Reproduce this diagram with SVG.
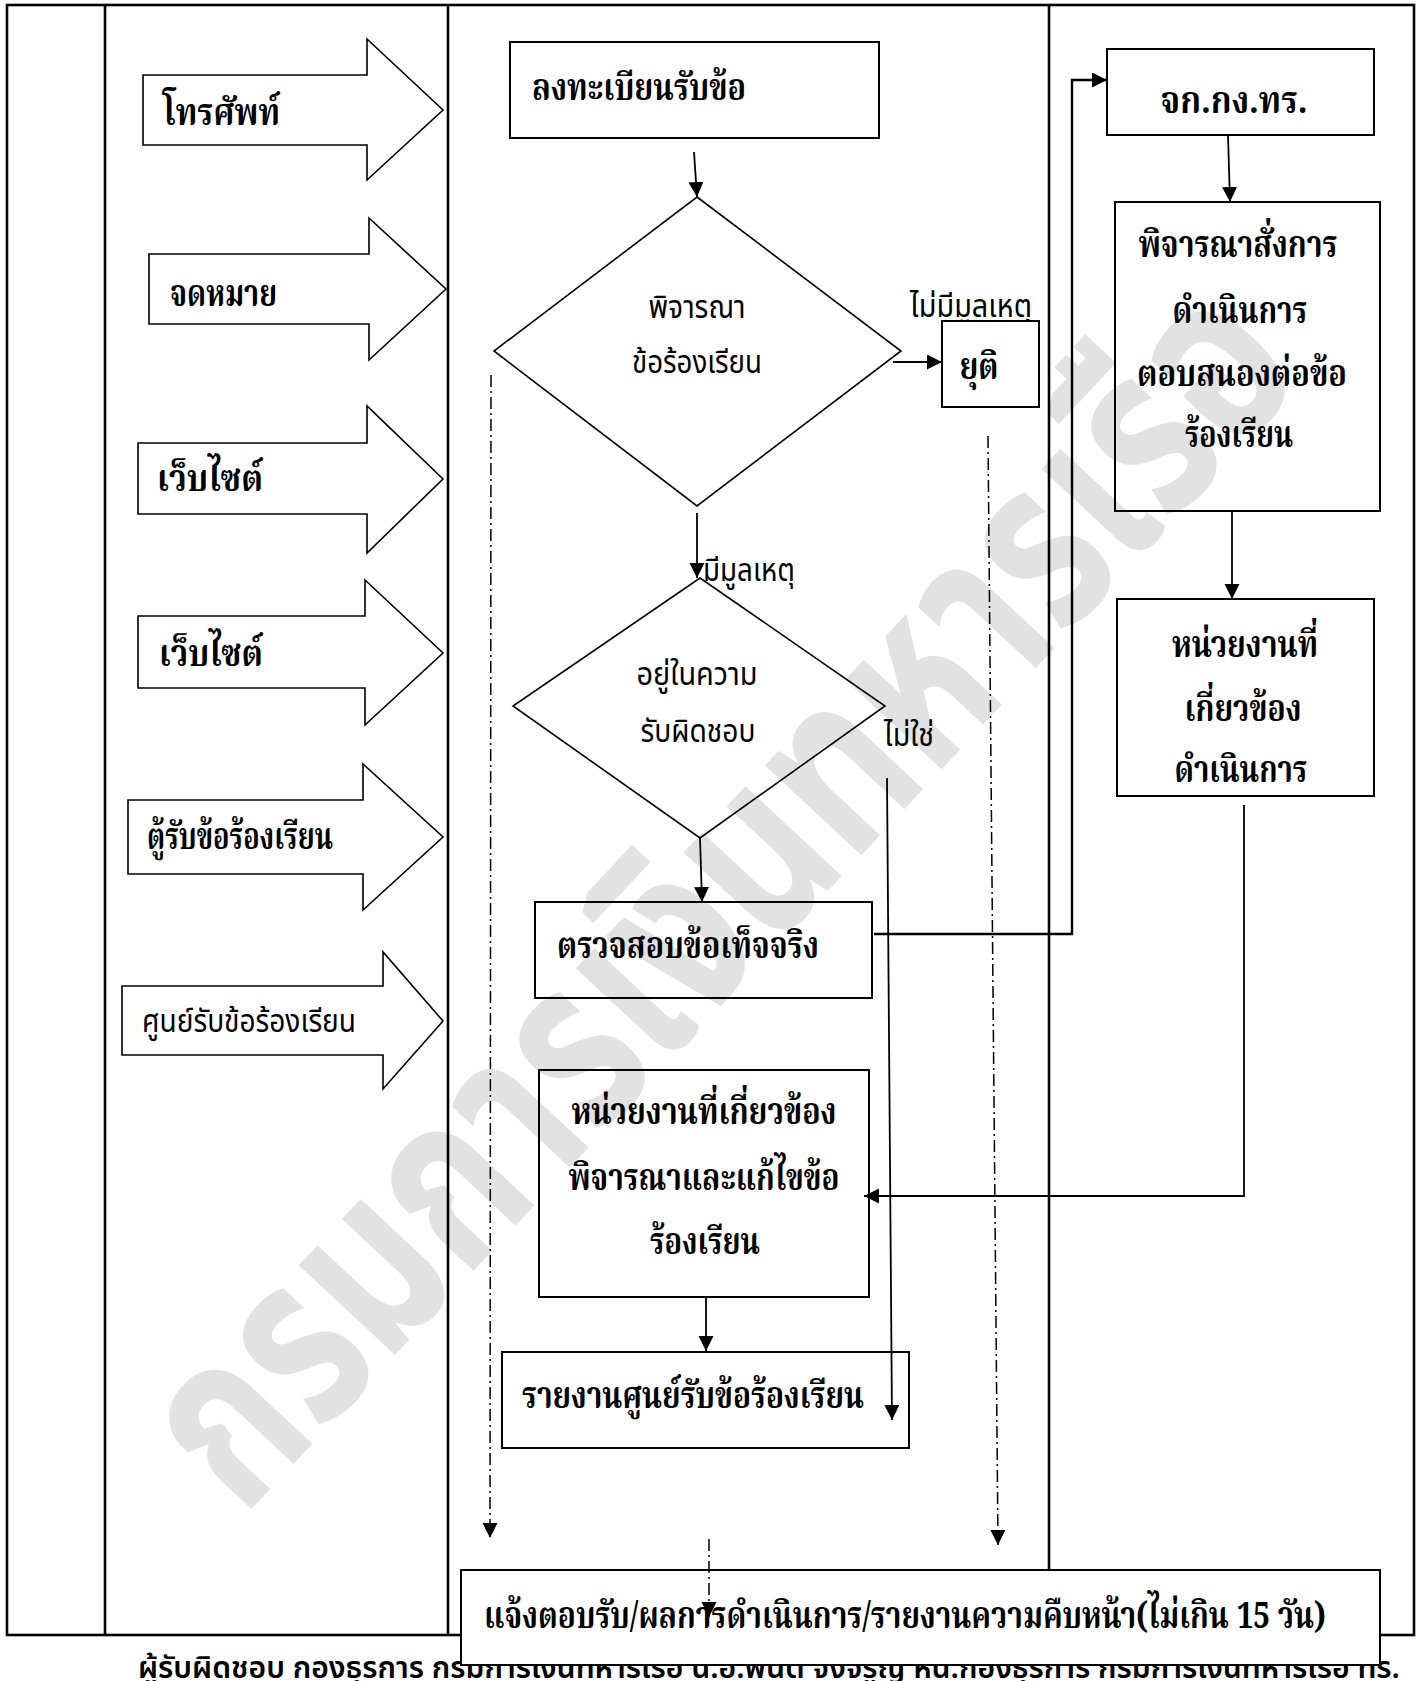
<svg xmlns="http://www.w3.org/2000/svg" width="1422" height="1681" viewBox="0 0 1422 1681">
  <style>
    .lane{fill:none;stroke:#000;stroke-width:2.6}
    .box{fill:none;stroke:#000;stroke-width:2}
    .boxw{fill:#fff;stroke:#000;stroke-width:2}
    .dia{fill:none;stroke:#000;stroke-width:1.6}
    .blk{fill:#fff;stroke:#000;stroke-width:1.6}
    .ln{fill:none;stroke:#000;stroke-width:1.8}
    .dd{fill:none;stroke:#000;stroke-width:1.5;stroke-dasharray:12 4 2 4}
    .tb{font-family:"Noto Serif Thai","Noto Sans Thai","Liberation Serif",serif;font-weight:bold;font-size:37px;fill:#000}
    .tr{font-family:"Noto Sans Thai","Noto Sans","DejaVu Sans",sans-serif;font-size:32px;fill:#000}
    .wm{font-family:"Noto Sans Thai","Noto Sans",sans-serif;font-weight:bold;font-size:240px;fill:#e2e2e2}
  </style>
  <defs>
    <marker id="ah" markerUnits="userSpaceOnUse" markerWidth="18" markerHeight="16" refX="15" refY="7.5" orient="auto">
      <path d="M0,0 L15,7.5 L0,15 z" fill="#000"/>
    </marker>
  </defs>

  <!-- background watermark -->
  <text class="wm" transform="translate(730,905) rotate(-47)" x="0" y="62" text-anchor="middle" textLength="1560" lengthAdjust="spacingAndGlyphs">กรมการเงินทหารเรือ</text>

  <!-- lane frame -->
  <g id="frame">
    <rect class="lane" x="7" y="5" width="1407" height="1630"/>
    <line class="lane" x1="105" y1="5" x2="105" y2="1635"/>
    <line class="lane" x1="448" y1="5" x2="448" y2="1635"/>
    <line class="lane" x1="1049" y1="5" x2="1049" y2="1635"/>
  </g>

  <!-- footer line of the form -->
  <text class="tr" x="138" y="1678" textLength="1262" lengthAdjust="spacingAndGlyphs" style="font-weight:600;font-size:30px">ผู้รับผิดชอบ กองธุรการ กรมการเงินทหารเรือ น.อ.พนิต จงจรูญ หน.กองธุรการ กรมการเงินทหารเรือ ทร.</text>

  <!-- channels -->
  <g id="ch-phone">
    <polygon class="blk" points="143,75 367,75 367,39 443,110 367,180 367,145 143,145"/>
    <text class="tb" x="163" y="125" textLength="117" lengthAdjust="spacingAndGlyphs">โทรศัพท์</text>
  </g>
  <g id="ch-letter">
    <polygon class="blk" points="149,254 369,254 369,218 446,289 369,360 369,324 149,324"/>
    <text class="tb" x="170" y="306" textLength="107" lengthAdjust="spacingAndGlyphs">จดหมาย</text>
  </g>
  <g id="ch-web1">
    <polygon class="blk" points="138,443 367,443 367,406 443,479 367,553 367,514 138,514"/>
    <text class="tb" x="157" y="491" textLength="106" lengthAdjust="spacingAndGlyphs">เว็บไซต์</text>
  </g>
  <g id="ch-web2">
    <polygon class="blk" points="138,616 365,616 365,580 443,653 365,725 365,688 138,688"/>
    <text class="tb" x="159" y="666" textLength="104" lengthAdjust="spacingAndGlyphs">เว็บไซต์</text>
  </g>
  <g id="ch-box">
    <polygon class="blk" points="128,800 363,800 363,764 443,837 363,910 363,874 128,874"/>
    <text class="tb" x="147" y="849" textLength="186" lengthAdjust="spacingAndGlyphs">ตู้รับข้อร้องเรียน</text>
  </g>
  <g id="ch-center">
    <polygon class="blk" points="122,986 383,986 383,952 443,1021 383,1089 383,1055 122,1055"/>
    <text class="tr" x="142" y="1032" textLength="214" lengthAdjust="spacingAndGlyphs">ศูนย์รับข้อร้องเรียน</text>
  </g>

  <!-- process column -->
  <g id="n-register">
    <rect class="box" x="510" y="42" width="369" height="96"/>
    <text class="tb" x="532" y="100" textLength="214" lengthAdjust="spacingAndGlyphs">ลงทะเบียนรับข้อ</text>
  </g>
  <g id="n-consider">
    <polygon class="dia" points="697,197 901,351 697,506 494,351"/>
    <text class="tr" x="697" y="318" text-anchor="middle" textLength="97" lengthAdjust="spacingAndGlyphs">พิจารณา</text>
    <text class="tr" x="697" y="373" text-anchor="middle" textLength="130" lengthAdjust="spacingAndGlyphs">ข้อร้องเรียน</text>
  </g>
  <g id="lbl-nocause">
    <text class="tr" x="910" y="317" textLength="122" lengthAdjust="spacingAndGlyphs">ไม่มีมูลเหตุ</text>
  </g>
  <g id="n-stop">
    <rect class="boxw" x="942" y="321" width="97" height="86"/>
    <text class="tb" x="979" y="379" text-anchor="middle" textLength="39" lengthAdjust="spacingAndGlyphs">ยุติ</text>
  </g>
  <g id="lbl-cause">
    <text class="tr" x="703" y="581" textLength="92" lengthAdjust="spacingAndGlyphs">มีมูลเหตุ</text>
  </g>
  <g id="n-scope">
    <polygon class="dia" points="700,578 885,706 700,838 513,706"/>
    <text class="tr" x="697" y="685" text-anchor="middle" textLength="121" lengthAdjust="spacingAndGlyphs">อยู่ในความ</text>
    <text class="tr" x="698" y="742" text-anchor="middle" textLength="115" lengthAdjust="spacingAndGlyphs">รับผิดชอบ</text>
  </g>
  <g id="lbl-no">
    <text class="tr" x="884" y="746" textLength="50" lengthAdjust="spacingAndGlyphs">ไม่ใช่</text>
  </g>
  <g id="n-verify">
    <rect class="box" x="535" y="902" width="337" height="96"/>
    <text class="tb" x="557" y="958" textLength="262" lengthAdjust="spacingAndGlyphs">ตรวจสอบข้อเท็จจริง</text>
  </g>
  <g id="n-units">
    <rect class="box" x="539" y="1070" width="330" height="227"/>
    <text class="tb" x="704" y="1124" text-anchor="middle" textLength="265" lengthAdjust="spacingAndGlyphs">หน่วยงานที่เกี่ยวข้อง</text>
    <text class="tb" x="704" y="1190" text-anchor="middle" textLength="271" lengthAdjust="spacingAndGlyphs">พิจารณาและแก้ไขข้อ</text>
    <text class="tb" x="705" y="1254" text-anchor="middle" textLength="110" lengthAdjust="spacingAndGlyphs">ร้องเรียน</text>
  </g>
  <g id="n-report">
    <rect class="box" x="502" y="1352" width="407" height="96"/>
    <text class="tb" x="522" y="1408" textLength="342" lengthAdjust="spacingAndGlyphs">รายงานศูนย์รับข้อร้องเรียน</text>
  </g>
  <g id="n-notify">
    <rect class="boxw" x="461" y="1570" width="919" height="95"/>
    <text class="tb" x="484" y="1628" textLength="842" lengthAdjust="spacingAndGlyphs">แจ้งตอบรับ/ผลการดำเนินการ/รายงานความคืบหน้า(ไม่เกิน 15 วัน)</text>
  </g>

  <!-- command column -->
  <g id="n-director">
    <rect class="box" x="1107" y="49" width="267" height="86"/>
    <text class="tb" x="1234" y="113" text-anchor="middle" textLength="147" lengthAdjust="spacingAndGlyphs">จก.กง.ทร.</text>
  </g>
  <g id="n-order">
    <rect class="box" x="1115" y="202" width="265" height="309"/>
    <text class="tb" x="1238" y="257" text-anchor="middle" textLength="199" lengthAdjust="spacingAndGlyphs">พิจารณาสั่งการ</text>
    <text class="tb" x="1240" y="323" text-anchor="middle" textLength="135" lengthAdjust="spacingAndGlyphs">ดำเนินการ</text>
    <text class="tb" x="1242" y="386" text-anchor="middle" textLength="210" lengthAdjust="spacingAndGlyphs">ตอบสนองต่อข้อ</text>
    <text class="tb" x="1239" y="447" text-anchor="middle" textLength="108" lengthAdjust="spacingAndGlyphs">ร้องเรียน</text>
  </g>
  <g id="n-dept">
    <rect class="box" x="1117" y="599" width="257" height="197"/>
    <text class="tb" x="1245" y="657" text-anchor="middle" textLength="146" lengthAdjust="spacingAndGlyphs">หน่วยงานที่</text>
    <text class="tb" x="1243" y="721" text-anchor="middle" textLength="117" lengthAdjust="spacingAndGlyphs">เกี่ยวข้อง</text>
    <text class="tb" x="1241" y="782" text-anchor="middle" textLength="133" lengthAdjust="spacingAndGlyphs">ดำเนินการ</text>
  </g>

  <!-- connectors -->
  <g id="connectors">
    <line class="ln" x1="694" y1="152" x2="697" y2="197" marker-end="url(#ah)"/>
    <line class="ln" x1="893" y1="362" x2="942" y2="362" marker-end="url(#ah)"/>
    <line class="ln" x1="697" y1="513" x2="697" y2="578" marker-end="url(#ah)"/>
    <line class="ln" x1="700" y1="838" x2="702" y2="902" marker-end="url(#ah)"/>
    <line class="ln" x1="887" y1="778" x2="892" y2="1420" marker-end="url(#ah)"/>
    <path class="ln" d="M874,934 H1072 V80 H1107" marker-end="url(#ah)" style="stroke-width:2.4"/>
    <line class="ln" x1="1228" y1="135" x2="1230" y2="202" marker-end="url(#ah)"/>
    <line class="ln" x1="1232" y1="511" x2="1232" y2="599" marker-end="url(#ah)"/>
    <path class="ln" d="M1244,805 V1196 H864" marker-end="url(#ah)"/>
    <line class="ln" x1="706" y1="1297" x2="706" y2="1351" marker-end="url(#ah)"/>
    <line class="dd" x1="491" y1="375" x2="490" y2="1538" marker-end="url(#ah)"/>
    <line class="dd" x1="988" y1="436" x2="998" y2="1545" marker-end="url(#ah)"/>
    <line class="dd" x1="709" y1="1539" x2="709" y2="1617" marker-end="url(#ah)"/>
  </g>
</svg>
